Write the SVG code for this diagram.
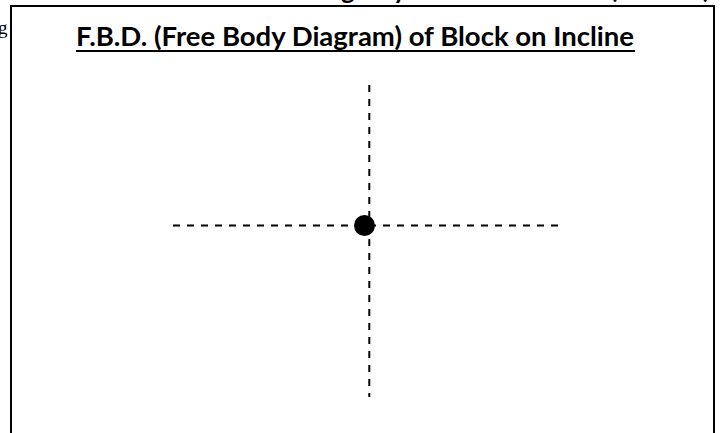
<svg xmlns="http://www.w3.org/2000/svg" width="721" height="433" viewBox="0 0 721 433">
<style>
.frag{font-family:Lato,"Liberation Sans",sans-serif;font-weight:bold;font-size:26px;fill:#000}
.axis{stroke:#000;stroke-width:2;stroke-dasharray:7 7;fill:none}
</style>
<rect width="721" height="433" fill="#fff"/>
<text x="-2" y="34" font-family="Liberation Serif,serif" font-size="19" fill="#000">g</text>
<text class="frag" x="341" y="-1">g</text>
<text class="frag" x="393" y="-1">y</text>
<text class="frag" x="610" y="-2">(</text>
<text class="frag" x="703" y="-2">)</text>
<g id="frame">
<path d="M11,440 V6 H714 V440" fill="#fff" stroke="#000" stroke-width="2"/>
</g>
<g id="title">
<text x="76" y="46" font-family="Lato,'Liberation Sans',sans-serif" font-weight="bold" font-size="26.5" textLength="558" lengthAdjust="spacingAndGlyphs" fill="#000">F.B.D. (Free Body Diagram) of Block on Incline</text>
<line x1="76" y1="51" x2="635" y2="51" stroke="#000" stroke-width="2"/>
</g>
<g id="connectors">
<line class="axis" x1="173" y1="225.5" x2="560" y2="225.5"/>
<line class="axis" x1="369.3" y1="85" x2="369.3" y2="397"/>
</g>
<g id="point">
<circle cx="364.5" cy="225.5" r="10.5" fill="#000"/>
</g>
</svg>
